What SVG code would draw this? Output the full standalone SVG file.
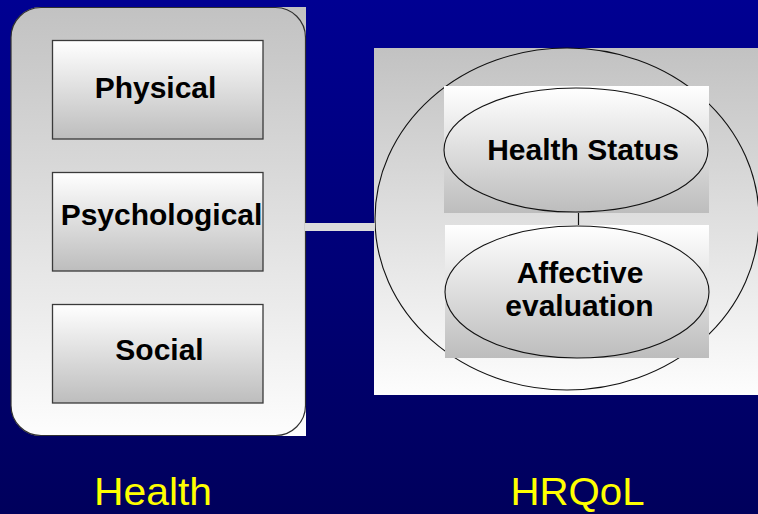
<svg xmlns="http://www.w3.org/2000/svg" width="758" height="514" viewBox="0 0 758 514">
  <defs>
    <linearGradient id="bg" x1="0" y1="0" x2="0" y2="1">
      <stop offset="0" stop-color="#000092"/>
      <stop offset="1" stop-color="#00005c"/>
    </linearGradient>
    <linearGradient id="panel" x1="0" y1="0" x2="0" y2="1">
      <stop offset="0" stop-color="#c2c2c2"/>
      <stop offset="1" stop-color="#fdfdfd"/>
    </linearGradient>
    <linearGradient id="box" x1="0" y1="0" x2="0" y2="1">
      <stop offset="0" stop-color="#ffffff"/>
      <stop offset="1" stop-color="#bdbdbd"/>
    </linearGradient>
    <style>
      .box { fill: url(#box); stroke: #3a3a3a; stroke-width: 1.3; }
      .oval { fill: url(#box); stroke: #111; stroke-width: 1.1; }
      .lbl { font-family: "Liberation Sans", Arial, sans-serif; font-weight: bold; font-size: 30px; fill: #000; text-anchor: middle; }
      .cap { font-family: "Liberation Sans", Arial, sans-serif; font-size: 39px; fill: #ffff00; text-anchor: middle; }
    </style>
  </defs>

  <rect width="758" height="514" fill="url(#bg)"/>

  <!-- Health container -->
  <g id="health-panel">
    <path d="M41,7 H306 V436 H41 A30,30 0 0 1 11,406 V37 A30,30 0 0 1 41,7 Z" fill="url(#panel)"/>
    <rect x="11" y="7.5" width="294.5" height="428" rx="30" ry="30" fill="none" stroke="#303030" stroke-width="1.2"/>
  </g>

  <g id="physical">
    <rect class="box" x="52.5" y="40.5" width="210.5" height="98.5"/>
    <text class="lbl" x="155.5" y="97.5">Physical</text>
  </g>
  <g id="psychological">
    <rect class="box" x="52.5" y="172.5" width="210.5" height="98.5"/>
    <text class="lbl" x="161.5" y="225">Psychological</text>
  </g>
  <g id="social">
    <rect class="box" x="52.5" y="304.5" width="210.5" height="98.5"/>
    <text class="lbl" x="159.5" y="360">Social</text>
  </g>

  <!-- HRQoL container -->
  <g id="hrqol-panel">
    <rect x="374" y="48" width="384" height="347" fill="url(#panel)"/>
    <ellipse cx="567" cy="219" rx="192" ry="171" fill="none" stroke="#111" stroke-width="1.1"/>
  </g>

  <g id="connectors">
    <rect x="305" y="223" width="70" height="8" fill="#dcdcdc"/>
    <line x1="578.5" y1="212" x2="578.5" y2="226" stroke="#111" stroke-width="1.2"/>
  </g>

  <g id="health-status">
    <rect x="444" y="86" width="265" height="127" fill="url(#box)"/>
    <ellipse class="oval" cx="576" cy="150" rx="132" ry="62"/>
    <text class="lbl" x="583" y="159.5">Health Status</text>
  </g>

  <g id="affective-evaluation">
    <rect x="445" y="225" width="264" height="133" fill="url(#box)"/>
    <ellipse class="oval" cx="577" cy="292" rx="132" ry="66"/>
    <text class="lbl" x="580" y="283">Affective</text>
    <text class="lbl" x="579.5" y="316">evaluation</text>
  </g>

  <text class="cap" x="153" y="505" textLength="118" lengthAdjust="spacingAndGlyphs">Health</text>
  <text class="cap" x="577.5" y="505" textLength="134" lengthAdjust="spacingAndGlyphs">HRQoL</text>
</svg>
